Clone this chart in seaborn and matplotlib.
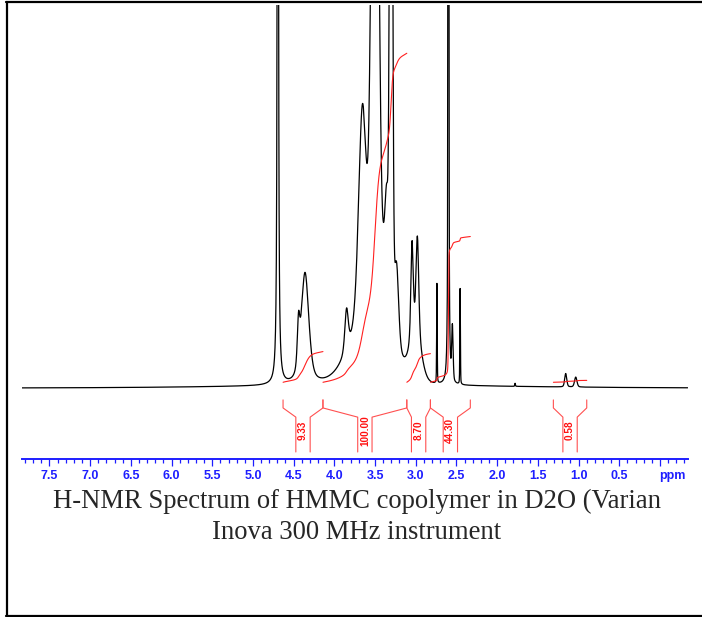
import numpy as np
import pandas as pd
import matplotlib
matplotlib.use("Agg")
import matplotlib.pyplot as plt
from matplotlib.ticker import MultipleLocator
import seaborn as sns

sns.set_style("white")
plt.rcParams['font.family'] = ['Liberation Sans', 'DejaVu Sans']

# peaks: ppm, height (% of plot height), fwhm (ppm), lorentz fraction
peak_ppm    = [4.694, 4.44, 4.36, 3.85, 3.55, 3.655, 3.50, 3.37, 3.355, 3.303, 3.235, 3.00, 3.045, 2.98, 2.74, 2.599, 2.55, 2.455, 1.78, 1.158, 1.035, 3.5]
peak_height = [600, 11, 29, 11, 16, 55, 220, 17, 15, 250, 20, 10, 26, 27, 26, 1000, 14, 25, 0.8, 3.5, 2.6, 0.6]
peak_fwhm   = [0.01, 0.035, 0.11, 0.05, 0.55, 0.11, 0.092, 0.08, 0.045, 0.0365, 0.06, 0.16, 0.035, 0.04, 0.008, 0.008, 0.02, 0.008, 0.01, 0.03, 0.035, 4.0]
peak_eta    = [0.8, 0.5, 0.5, 0.5, 0.0, 0.3, 0.2, 0.3, 0.3, 0.2, 0.3, 0.0, 0.5, 0.5, 0.3, 0.3, 0.3, 0.3, 0.3, 0.3, 0.3, 0.0]

# integral regions (ppm) and the printed values
int_start = [4.63, 4.14, 3.11, 2.82, 1.31]
int_end   = [4.14, 3.11, 2.82, 2.33, 0.90]
int_value = [9.33, 100.00, 8.70, 44.30, 0.58]

tick_major = [7.5, 7.0, 6.5, 6.0, 5.5, 5.0, 4.5, 4.0, 3.5, 3.0, 2.5, 2.0, 1.5, 1.0, 0.5, 0.0]

title_1 = "H-NMR Spectrum of HMMC copolymer in D2O (Varian"
title_2 = "Inova 300 MHz instrument"

#%%
ppm = np.arange(-0.34, 7.84, 0.0005)
inten = np.zeros_like(ppm)
for c, h, w, e in zip(peak_ppm, peak_height, peak_fwhm, peak_eta):
    d = (ppm - c) / w
    inten += h * (e / (1 + 4 * d**2) + (1 - e) * np.exp(-4 * np.log(2) * d**2))
spec = pd.DataFrame({'ppm': ppm, 'int': inten})

W, H = 702, 617
def fx(px): return px / W
def fy(py): return 1 - py / H

blue = '#1e1eff'

fig = plt.figure(figsize=(7.02, 6.17), dpi=100)
ax = fig.add_axes([fx(21.7), fy(458.5), fx(687.7) - fx(21.7), fy(5) - fy(458.5)])
ax.set_facecolor('none')

sns.lineplot(data=spec, x='ppm', y='int', color='black', lw=0.9, ax=ax, estimator=None, sort=False)

# integral traces, scaled so that 100 -> 85.9 units of height
for a, b, v in zip(int_start, int_end, int_value):
    m = (ppm <= a) & (ppm >= b)
    x = ppm[m][::-1]
    cum = np.cumsum(inten[m][::-1])
    y = 1.5 + v * 0.859 * cum / cum[-1]
    sns.lineplot(x=x, y=y, color='#ff2020', lw=0.8, ax=ax, estimator=None, sort=False)

    c = (a + b) / 2
    g = 0.088
    for e, s in [(a, 1), (b, -1)]:
        ax.plot([e, e, c + s * g, c + s * g], [-3.1, -5.2, -7.6, -16.7], color='#ff5050', lw=0.8, clip_on=False)
    ax.text(c, -11.0, '%.2f' % v, rotation=90, ha='center', va='center', color='#ff1010',
            fontsize=7.2, fontweight='bold')

ax.set_xlim(7.84, -0.34)
ax.set_ylim(-18.4, 100)
ax.set_xlabel('')
ax.set_ylabel('')
ax.set_yticks([])
for s in ['left', 'right', 'top']:
    ax.spines[s].set_visible(False)
ax.spines['bottom'].set_color(blue)
ax.spines['bottom'].set_linewidth(1.4)

ax.set_xticks(tick_major)
ax.set_xticklabels(['' if t == 0 else '%.1f' % t for t in tick_major])
ax.xaxis.set_minor_locator(MultipleLocator(0.1))
ax.tick_params(axis='x', which='both', bottom=True, direction='out', width=0.9, color=blue)
ax.tick_params(axis='x', which='major', length=5, labelcolor=blue, labelsize=9, pad=3)
ax.tick_params(axis='x', which='minor', length=3)
for lab in ax.get_xticklabels():
    lab.set_fontweight('bold')
fig.text(fx(672), fy(476), 'ppm', ha='center', va='center', color=blue, fontsize=9, fontweight='bold')

fig.text(fx(357), fy(508), title_1, ha='center', va='baseline', family='Liberation Serif', fontsize=19.2)
fig.text(fx(357), fy(539), title_2, ha='center', va='baseline', family='Liberation Serif', fontsize=19.2)

# frame of the original figure
fig.add_artist(plt.Line2D([fx(5.5), 1], [fy(2.3), fy(2.3)], color='black', lw=1.6))
fig.add_artist(plt.Line2D([fx(6.7), fx(6.7)], [fy(1.5), fy(616)], color='black', lw=1.6))
fig.add_artist(plt.Line2D([fx(5.5), 1], [fy(615.8), fy(615.8)], color='black', lw=1.6))

plt.savefig('out.png', dpi=100)
